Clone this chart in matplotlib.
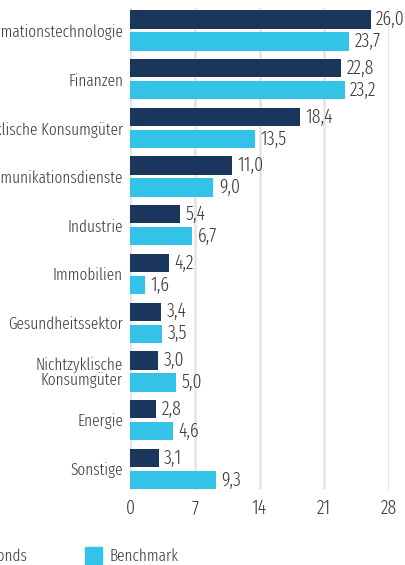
import matplotlib
matplotlib.use("Agg")
import matplotlib.pyplot as plt
from matplotlib import font_manager
from matplotlib.patches import Rectangle
import numpy as np

# data
categories = ['Informationstechnologie', 'Finanzen', 'Zyklische Konsumgüter',
              'Kommunikationsdienste', 'Industrie', 'Immobilien',
              'Gesundheitssektor', 'Nichtzyklische\nKonsumgüter', 'Energie',
              'Sonstige']
fonds = [26.0, 22.8, 18.4, 11.0, 5.4, 4.2, 3.4, 3.0, 2.8, 3.1]
benchmark = [23.7, 23.2, 13.5, 9.0, 6.7, 1.6, 3.5, 5.0, 4.6, 9.3]
xticks = [0, 7, 14, 21, 28]

# look for a narrow, light font; the original uses a compressed face
cands = []
for f in font_manager.fontManager.ttflist:
    nm = (f.name + ' ' + f.fname).lower().replace(' ', '').replace('-', '')
    narrow = ('narrow' in nm or 'condensed' in nm
              or f.stretch in ('condensed', 'extra-condensed'))
    if narrow and f.style == 'normal':
        w = f.weight if isinstance(f.weight, int) else 400
        score = abs(w - 300)
        if 'extracondensed' not in nm and f.stretch != 'extra-condensed':
            score += 60
        if 'ultra' in nm or 'semi' in nm:
            score += 100
        cands.append((score, f.fname))
cands.sort()
fs_num, fs_lab = 12.5, 12.5
if cands:
    fp = font_manager.FontProperties(fname=cands[0][1])
    if cands[0][0] < 60:
        fs_num, fs_lab = 14, 12
else:
    fp = font_manager.FontProperties(family=['Roboto', 'DejaVu Sans'])
    fs_num, fs_lab = 10, 10

dark = '#1b365d'
light = '#33c3e8'
txt = '#3a3a3a'

W, H = 405, 565
fig = plt.figure(figsize=(W / 100, H / 100), dpi=100)
ax = fig.add_axes([130 / W, 1 - 490 / H, 259 / W, 482 / H])

y = np.arange(len(categories))
bh = 0.375
off = 0.226
ax.barh(y - off, fonds, height=bh, color=dark, zorder=3)
ax.barh(y + off, benchmark, height=bh, color=light, zorder=3)

for yi, v in zip(y - off, fonds):
    ax.text(v + 0.6, yi, f'{v:.1f}'.replace('.', ','), va='center', ha='left',
            fontproperties=fp, fontsize=fs_num, color=txt)
for yi, v in zip(y + off, benchmark):
    ax.text(v + 0.6, yi, f'{v:.1f}'.replace('.', ','), va='center', ha='left',
            fontproperties=fp, fontsize=fs_num, color=txt)

ax.set_xlim(0, 28)
ax.set_ylim(9.435, -0.462)
ax.set_xticks(xticks)
ax.set_xticklabels([str(t) for t in xticks])
ax.set_yticks(y)
ax.set_yticklabels(categories, linespacing=0.95)
ax.tick_params(axis='y', length=0, pad=5, labelcolor=txt)
ax.tick_params(axis='x', length=0, pad=6, labelcolor=txt)
for lab in ax.get_xticklabels():
    lab.set_fontproperties(fp)
    lab.set_fontsize(fs_num)
for lab in ax.get_yticklabels():
    lab.set_fontproperties(fp)
    lab.set_fontsize(fs_lab)
ax.grid(axis='x', color='#e6e6e6', linewidth=2, zorder=0)
for s in ax.spines.values():
    s.set_visible(False)

# legend
def px(x0, y0):
    return x0 / W, 1 - y0 / H

fig.patches.append(Rectangle(px(-40, 564), 17 / W, 17 / H, color=dark,
                             transform=fig.transFigure, figure=fig))
fig.text(*px(27, 556), 'Fonds', ha='right', va='center',
         fontproperties=fp, fontsize=fs_lab, color=txt)
fig.patches.append(Rectangle(px(85, 564), 17 / W, 17 / H, color=light,
                             transform=fig.transFigure, figure=fig))
fig.text(*px(109, 556), 'Benchmark', ha='left', va='center',
         fontproperties=fp, fontsize=fs_lab, color=txt)

fig.savefig('out.png', dpi=100)
